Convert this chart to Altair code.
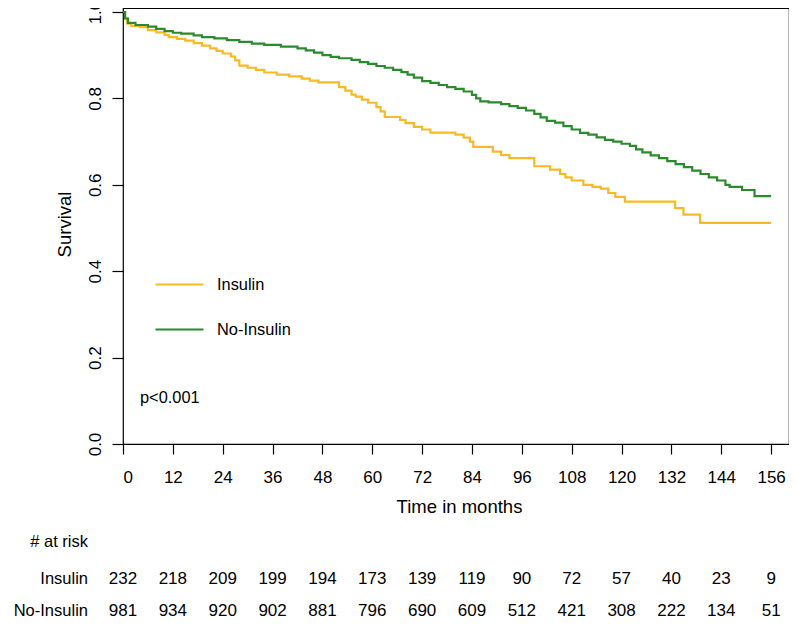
import altair as alt
import pandas as pd

FONT = "Liberation Sans"
YELLOW = "#F8BA24"
GREEN = "#2B8A2E"

# Kaplan-Meier change points (months, survival)
ins_t = [0, 0.5, 1, 2, 4, 6, 8, 10, 11, 13, 15, 17, 19, 21, 22.5, 24, 26, 27, 28, 30, 32, 34, 37, 40, 43,
         45, 47, 52, 53.5, 55, 56, 57.5, 59, 61, 62, 63, 66.7, 68, 70, 72, 74, 80, 82, 83.5, 84.3, 89, 91,
         93, 99, 102.8, 105.2, 106.5, 108, 110.8, 113, 115, 116.8, 118.5, 120.8, 132.9, 134.9, 138.9, 156]
ins_s = [1.0, 0.985, 0.973, 0.968, 0.965, 0.958, 0.953, 0.947, 0.942, 0.938, 0.934, 0.928, 0.922, 0.916,
         0.910, 0.904, 0.897, 0.888, 0.876, 0.871, 0.866, 0.860, 0.855, 0.851, 0.846, 0.841, 0.837, 0.826,
         0.818, 0.809, 0.804, 0.797, 0.790, 0.780, 0.770, 0.757, 0.750, 0.743, 0.734, 0.728, 0.721, 0.716,
         0.709, 0.700, 0.688, 0.677, 0.669, 0.662, 0.643, 0.635, 0.625, 0.617, 0.610, 0.600, 0.595, 0.591,
         0.581, 0.572, 0.561, 0.546, 0.531, 0.512, 0.512]

noins_t = [0, 0.5, 1.2, 3, 6, 8, 10, 12, 14, 17, 19, 22, 25, 28, 31, 34, 38, 42, 44, 46, 48, 50, 52, 55,
           57, 59, 61, 63, 65, 67, 68.5, 70, 72, 74, 76, 78, 80, 82, 84, 85, 86, 88, 91, 93, 95, 97, 99,
           100.5, 102, 104, 106, 108, 110, 112, 114, 116, 118, 120, 122, 123.5, 125, 127, 129, 131, 133,
           135, 137, 139, 141, 143, 145, 146, 149, 152, 156]
noins_s = [1.0, 0.985, 0.975, 0.970, 0.966, 0.961, 0.956, 0.952, 0.950, 0.946, 0.942, 0.939, 0.935, 0.931,
           0.927, 0.924, 0.920, 0.916, 0.911, 0.906, 0.900, 0.896, 0.893, 0.889, 0.884, 0.880, 0.875, 0.871,
           0.866, 0.861, 0.855, 0.848, 0.840, 0.836, 0.831, 0.826, 0.822, 0.816, 0.808, 0.800, 0.793, 0.791,
           0.787, 0.782, 0.778, 0.772, 0.764, 0.756, 0.748, 0.744, 0.736, 0.728, 0.720, 0.716, 0.710, 0.704,
           0.700, 0.695, 0.690, 0.682, 0.675, 0.668, 0.662, 0.655, 0.648, 0.641, 0.633, 0.625, 0.617, 0.610,
           0.600, 0.595, 0.588, 0.574, 0.574]

groups = ["Insulin", "No-Insulin"]
risk_times = [0, 12, 24, 36, 48, 60, 72, 84, 96, 108, 120, 132, 144, 156]
risk_ins = [232, 218, 209, 199, 194, 173, 139, 119, 90, 72, 57, 40, 23, 9]
risk_noins = [981, 934, 920, 902, 881, 796, 690, 609, 512, 421, 308, 222, 134, 51]
y_ticks = [0.0, 0.2, 0.4, 0.6, 0.8, 1.0]

W, H = 666, 436
X_MAX = 160.3

km = pd.concat([
    pd.DataFrame({"time": ins_t, "surv": ins_s, "group": "Insulin", "order": range(len(ins_t))}),
    pd.DataFrame({"time": noins_t, "surv": noins_s, "group": "No-Insulin", "order": range(len(noins_t))}),
])
risk_i = pd.DataFrame({"time": risk_times, "n": risk_ins})
risk_n = pd.DataFrame({"time": risk_times, "n": risk_noins})

xscale = alt.Scale(domain=[0, X_MAX], nice=False, zero=False)
yscale = alt.Scale(domain=[0, 1.0093], nice=False)

lines = alt.Chart(km).mark_line(interpolate="step-after", strokeWidth=2.2).encode(
    x=alt.X("time:Q", scale=xscale,
            axis=alt.Axis(values=risk_times, title="Time in months", tickSize=10, labelPadding=15,
                          titleX=336, titleY=68, titleBaseline="alphabetic", titleAnchor="middle",
                          titleFontSize=18.5)),
    y=alt.Y("surv:Q", scale=yscale,
            axis=alt.Axis(values=y_ticks, format=".1f", title="Survival", tickSize=11, labelAngle=270,
                          labelAlign="center", labelBaseline="alphabetic", labelPadding=12,
                          titleAngle=270, titleX=-53, titleY=216, titleBaseline="alphabetic",
                          titleAlign="center", titleFontSize=18.5)),
    color=alt.Color("group:N", scale=alt.Scale(domain=groups, range=[YELLOW, GREEN]),
                    legend=alt.Legend(title=None, orient="none", legendX=31, legendY=251,
                                      symbolType="stroke", symbolSize=2304, symbolStrokeWidth=2.2,
                                      labelFontSize=16.4, labelFont=FONT, labelColor="black",
                                      labelOffset=12, rowPadding=11, padding=0)),
    order="order:Q",
)

def txt(s, x, y, align="left", size=17):
    return alt.Chart(pd.DataFrame({"t": [s]})).mark_text(
        align=align, baseline="alphabetic", font=FONT, fontSize=size, color="black"
    ).encode(x=alt.value(x), y=alt.value(y), text="t:N")

pval = txt("p<0.001", 17, 395, size=16.4)
atrisk = txt("# at risk", -35, 539, "right", 16.5)
lab_i = txt("Insulin", -35, 576, "right", 16.5)
lab_n = txt("No-Insulin", -35, 608, "right", 16.5)

num_i = alt.Chart(risk_i).mark_text(baseline="alphabetic", font=FONT, fontSize=17, color="black").encode(
    x=alt.X("time:Q", scale=xscale), y=alt.value(576), text="n:Q")
num_n = alt.Chart(risk_n).mark_text(baseline="alphabetic", font=FONT, fontSize=17, color="black").encode(
    x=alt.X("time:Q", scale=xscale), y=alt.value(608), text="n:Q")

chart = alt.layer(lines, pval, atrisk, lab_i, lab_n, num_i, num_n).properties(
    width=W, height=H,
    autosize=alt.AutoSizeParams(type="none"),
    padding={"left": 115, "top": 0, "right": 0, "bottom": 175},
).configure_view(stroke="black", strokeWidth=1.2).configure_axis(
    grid=False, domain=False, tickColor="black", tickWidth=1.2,
    labelFont=FONT, labelFontSize=17, labelColor="black",
    titleFont=FONT, titleFontSize=17, titleFontWeight="normal", titleColor="black",
)

chart.save("out.html", embed_options={"renderer": "svg", "actions": False})
